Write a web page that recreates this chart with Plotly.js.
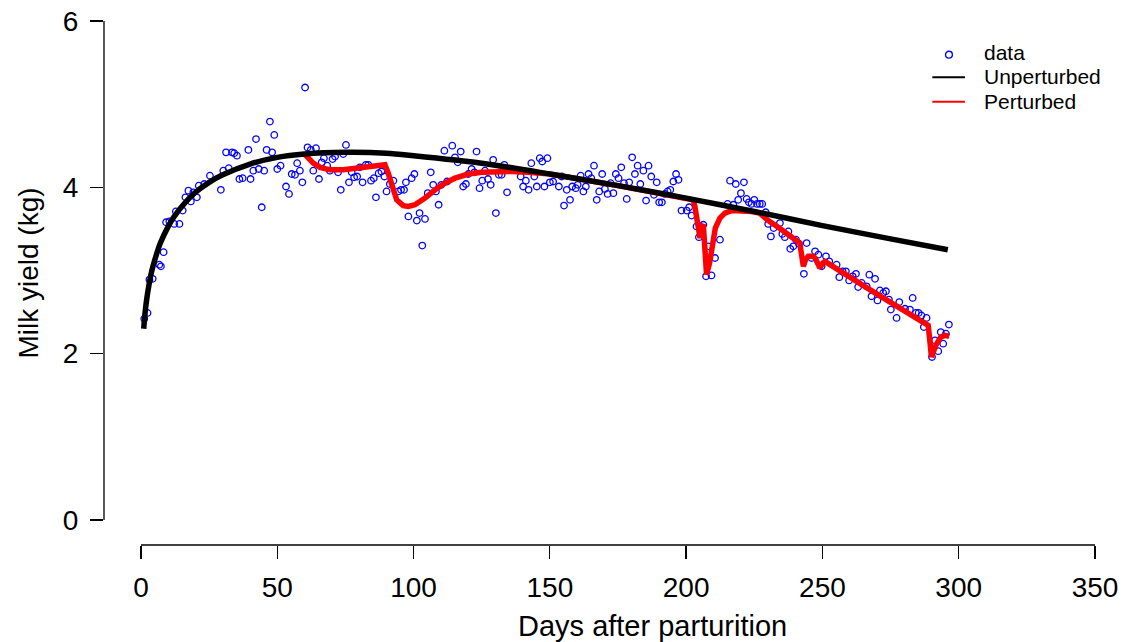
<!DOCTYPE html>
<html>
<head>
<meta charset="utf-8">
<script src="https://cdn.plot.ly/plotly-3.0.1.min.js"></script>
<style>html,body{margin:0;padding:0;background:#fff;}#chart{width:1128px;height:642px;}</style>
</head>
<body>
<div id="chart"></div>
<script>
// ---- observed daily milk yield (kg) ----
const dataDays = [
  1.2,2.4,3.1,4.3,6.7,7.3,8.3,9.2,10.4,12.2,12.8,14.1,15.3,16.3,17.4,18.3,19.2,20.5,21.2,23.2,25.3,29.3,30.2,31.2,32.2,33.4,34.2,35.2,36.1,37.3,39.4,40.2,41.2,42.2,43.2,44.3,45.2,46.1,47.3,48.1,48.9,
  50.0,51.2,53.2,54.3,55.3,56.5,57.3,58.3,59.2,60.2,61.1,62.3,63.2,64.2,65.3,66.3,67.1,68.3,69.3,70.3,71.2,72.3,73.3,74.2,75.2,76.3,77.3,78.2,79.3,80.3,81.3,82.5,83.4,84.4,85.4,86.2,87.2,88.2,89.3,90.1,91.3,92.6,94.4,95.4,96.5,97.2,98.1,
  99.3,100.3,101.2,102.2,103.2,104.2,105.2,106.3,107.2,108.2,109.2,110.2,111.3,112.3,114.2,115.2,116.2,117.3,118.2,119.2,120.1,121.3,122.3,123.1,124.2,125.2,126.2,127.3,128.3,129.2,130.2,131.3,132.3,133.3,134.3,139.3,140.2,141.2,142.2,143.2,144.3,145.2,146.3,147.2,148.0,
  149.1,150.0,151.2,153.3,154.3,155.2,156.2,157.4,158.2,159.5,160.2,161.3,162.3,163.2,164.2,165.2,166.2,167.2,168.1,169.2,170.2,171.2,172.3,173.3,174.2,175.2,176.2,177.2,178.2,179.1,180.2,181.2,182.2,183.2,184.3,185.3,186.2,187.2,188.2,189.2,190.1,191.1,192.2,193.2,194.2,195.3,196.3,197.2,
  198.3,200.2,201.1,202.0,203.8,204.7,206.3,207.3,208.1,209.3,210.6,212.4,215.2,216.1,217.3,218.2,219.1,220.1,221.2,222.2,223.0,224.0,225.0,226.0,227.0,227.9,229.2,230.1,231.1,232.1,234.4,235.3,236.2,237.5,238.2,239.3,240.3,241.4,243.2,244.2,246.0,
  247.3,248.5,249.7,251.3,252.5,255.2,256.2,257.4,258.6,259.8,261.1,262.3,263.1,264.4,266.2,267.2,268.0,269.3,270.2,271.1,272.3,273.3,274.4,275.1,277.2,278.2,280.3,282.1,283.1,284.3,285.3,286.3,287.2,288.2,290.2,291.3,292.5,293.4,294.3,295.3,296.4
];
const dataYield = [
  2.42,2.49,2.89,2.90,3.07,3.05,3.22,3.58,3.59,3.56,3.71,3.56,3.72,3.88,3.96,3.83,3.94,3.88,4.02,4.04,4.14,3.97,4.20,4.42,4.23,4.42,4.41,4.38,4.10,4.11,4.45,4.10,4.20,4.58,4.22,3.76,4.20,4.45,4.79,4.42,4.63,
  4.22,4.26,4.01,3.92,4.16,4.15,4.29,4.20,4.06,5.20,4.48,4.45,4.20,4.47,4.10,4.30,4.35,4.26,4.20,4.34,4.37,4.18,3.97,4.40,4.51,4.06,4.18,4.12,4.13,4.24,4.06,4.27,4.27,4.08,4.11,3.88,4.17,4.19,4.13,3.95,4.04,4.08,3.95,3.97,3.97,4.06,3.65,
  4.11,4.16,3.60,3.69,3.30,3.62,3.93,4.18,4.03,3.95,3.79,4.03,4.44,4.07,4.50,4.36,4.30,4.43,4.01,4.04,4.16,4.22,4.18,4.43,3.99,4.08,4.20,4.10,4.03,4.33,3.69,4.15,4.15,4.27,3.94,4.13,4.01,4.08,3.97,4.29,4.13,4.01,4.35,4.31,4.01,
  4.35,4.06,4.07,4.01,4.13,3.78,3.97,3.85,4.01,3.99,4.03,4.14,3.95,4.01,4.16,4.11,4.26,3.85,3.95,4.16,3.98,3.92,4.05,3.93,4.16,4.11,4.24,4.05,3.86,4.06,4.36,4.16,4.26,4.04,4.20,3.84,4.26,4.13,3.91,4.06,3.82,3.82,3.92,3.95,3.97,4.07,4.16,4.09,
  3.72,3.72,3.76,3.66,3.53,3.40,3.55,2.93,3.29,2.94,3.15,3.37,3.80,4.08,3.79,4.04,3.85,3.93,4.06,3.86,3.82,3.80,3.85,3.80,3.80,3.80,3.70,3.56,3.41,3.51,3.57,3.44,3.40,3.47,3.26,3.29,3.37,3.32,2.96,3.33,3.15,
  3.23,3.19,3.05,3.17,3.11,3.07,2.92,2.99,2.99,2.88,2.93,2.96,2.80,2.85,2.81,2.95,2.69,2.90,2.64,2.76,2.73,2.75,2.65,2.53,2.43,2.62,2.54,2.53,2.67,2.49,2.49,2.46,2.32,2.43,1.96,2.16,2.03,2.26,2.12,2.24,2.35
];

// ---- unperturbed lactation curve ----
const unpertDays  = [1,1.5,2,3,4,5,7,10,12,15,20,25,30,40,50,60,75,90,100,125,150,175,200,225,250,275,296];
const unpertYield = [2.30,2.49,2.63,2.84,3.00,3.12,3.32,3.53,3.64,3.77,3.94,4.06,4.15,4.28,4.36,4.40,4.42,4.41,4.38,4.29,4.16,4.02,3.87,3.71,3.54,3.38,3.25];

// ---- perturbed lactation curve ----
const pertDays  = [60,61,63.2,65.7,69.3,74.2,79.1,84,89.5,90.7,92,93.8,96.2,98.1,100.5,104.2,107.9,111.5,115.2,120.1,125,129.9,136,142,148.2,150,175,200,202.5,203.2,204.2,205.1,205.7,206.3,206.9,207.5,208.6,209.5,210.7,212.4,214.2,216.7,220.4,224,227,230.1,233.8,237.5,241.7,243,243.8,244.8,246.6,247.3,249.1,250.1,250.9,269.3,288.8,289.4,290,291.6,293.4,295,296.5];
const pertYield = [4.40,4.36,4.29,4.24,4.21,4.21,4.23,4.25,4.27,4.17,4.01,3.85,3.78,3.77,3.79,3.87,3.97,4.05,4.11,4.16,4.18,4.19,4.19,4.18,4.17,4.16,4.02,3.87,3.85,3.77,3.53,3.39,3.53,3.55,3.25,2.95,3.09,3.29,3.51,3.63,3.69,3.72,3.72,3.71,3.69,3.60,3.52,3.43,3.33,3.05,3.13,3.17,3.17,3.15,3.03,3.09,3.11,2.73,2.34,2.16,1.96,2.10,2.20,2.22,2.21];

// ---- axes ----
const xTicks = [0,50,100,150,200,250,300,350];
const yTicks = [0,2,4,6];
const xTitle = "Days after parturition";
const yTitle = "Milk yield (kg)";
const legendNames = ["data","Unperturbed","Perturbed"];

const FONT = "Liberation Sans, Arial, Helvetica, sans-serif";

const traces = [
  {x: dataDays, y: dataYield, type: "scatter", mode: "markers", name: legendNames[0], showlegend: false,
   marker: {symbol: "circle-open", size: 6.5, color: "#0000ff", line: {width: 1.3, color: "#0000ff"}}},
  {x: pertDays, y: pertYield, type: "scatter", mode: "lines", name: legendNames[2], showlegend: false,
   line: {color: "#ff0000", width: 5.5}},
  {x: unpertDays, y: unpertYield, type: "scatter", mode: "lines", name: legendNames[1], showlegend: false,
   line: {color: "#000000", width: 5.5, shape: "spline", smoothing: 0.8}}
];

const axisCommon = {
  showgrid: false, zeroline: false, showline: false,
  ticks: "outside", ticklen: 13, tickwidth: 1.3, tickcolor: "#000",
  tickfont: {family: FONT, size: 28, color: "#000"}
};

const legendFont = {family: FONT, size: 21, color: "#000"};

const layout = {
  width: 1128, height: 642,
  margin: {l: 104, r: 8, t: 1, b: 97},
  paper_bgcolor: "#fff", plot_bgcolor: "#fff",
  font: {family: FONT, color: "#000"},
  showlegend: false,
  xaxis: Object.assign({}, axisCommon, {range: [-13.57, 359.17], tickvals: xTicks, ticklabelstandoff: 4}),
  yaxis: Object.assign({}, axisCommon, {range: [-0.3006, 6.240], tickvals: yTicks, ticklabelstandoff: 6,
    title: {text: yTitle, font: {family: FONT, size: 28, color: "#000"}, standoff: 16}}),
  shapes: [
    {type: "line", xref: "paper", x0: 0, x1: 0, yref: "y", y0: yTicks[0], y1: yTicks[yTicks.length-1], line: {color: "#000", width: 1.3}},
    {type: "line", xref: "x", x0: xTicks[0], x1: xTicks[xTicks.length-1], yref: "paper", y0: 0, y1: 0, line: {color: "#000", width: 1.3}},
    // legend keys
    {type: "circle", xref: "paper", yref: "paper", x0: 0.8283, x1: 0.8350, y0: 0.8950, y1: 0.9075, line: {color: "#0000ff", width: 1.4}},
    {type: "line", xref: "paper", yref: "paper", x0: 0.8153, x1: 0.8474, y0: 0.8597, y1: 0.8597, line: {color: "#000", width: 2}},
    {type: "line", xref: "paper", yref: "paper", x0: 0.8153, x1: 0.8474, y0: 0.8147, y1: 0.8147, line: {color: "#ff0000", width: 2}}
  ],
  annotations: [
    {text: legendNames[0], xref: "paper", yref: "paper", x: 0.8639, y: 0.9057, xanchor: "left", yanchor: "middle", showarrow: false, font: legendFont},
    {text: legendNames[1], xref: "paper", yref: "paper", x: 0.8639, y: 0.8608, xanchor: "left", yanchor: "middle", showarrow: false, font: legendFont},
    {text: legendNames[2], xref: "paper", yref: "paper", x: 0.8639, y: 0.8159, xanchor: "left", yanchor: "middle", showarrow: false, font: legendFont},
    {text: xTitle, xref: "paper", yref: "paper", x: 0.5394, y: -0.1158, xanchor: "center", yanchor: "top", showarrow: false, font: {family: FONT, size: 29, color: "#000"}}
  ]
};

Plotly.newPlot("chart", traces, layout, {displayModeBar: false, staticPlot: true});
</script>
</body>
</html>
